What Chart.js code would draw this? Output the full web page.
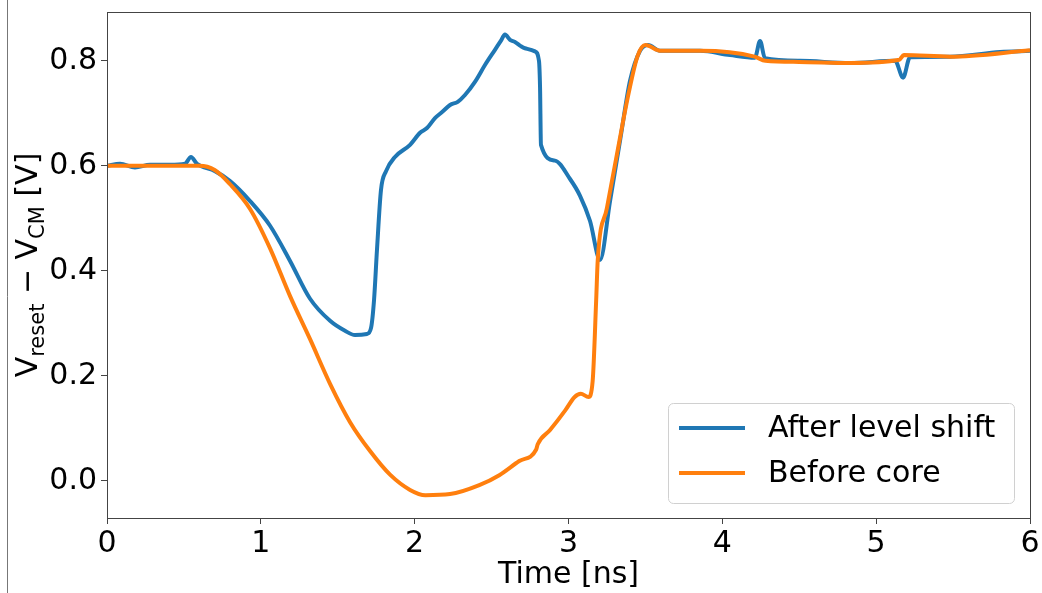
<!DOCTYPE html>
<html>
<head>
<meta charset="utf-8">
<script src="https://cdn.jsdelivr.net/npm/chart.js@4.4.0/dist/chart.umd.min.js"></script>
<style>
  body { margin: 0; background: #fff; }
</style>
</head>
<body>
<canvas id="chart" width="1042" height="593"></canvas>
<script>
// After level shift (blue)
const timeShift = [0, 0.085, 0.182, 0.28, 0.41, 0.507, 0.546, 0.585, 0.702, 0.8, 0.93, 1.06, 1.19, 1.32, 1.45, 1.547, 1.612, 1.69, 1.716, 1.736, 1.755, 1.781, 1.814, 1.872, 1.97, 2.035, 2.08, 2.132, 2.18, 2.23, 2.28, 2.327, 2.392, 2.457, 2.522, 2.56, 2.587, 2.62, 2.652, 2.69, 2.717, 2.782, 2.808, 2.815, 2.821, 2.912, 3.01, 3.075, 3.14, 3.205, 3.27, 3.335, 3.4, 3.465, 3.517, 3.595, 3.855, 4.05, 4.212, 4.245, 4.277, 4.505, 4.83, 5.123, 5.175, 5.22, 5.48, 5.805, 6.0];
const voltShift = [0.6, 0.604, 0.597, 0.602, 0.602, 0.604, 0.617, 0.604, 0.59, 0.571, 0.533, 0.486, 0.419, 0.347, 0.305, 0.286, 0.278, 0.28, 0.291, 0.345, 0.44, 0.554, 0.59, 0.617, 0.64, 0.663, 0.672, 0.691, 0.703, 0.716, 0.722, 0.735, 0.76, 0.792, 0.821, 0.838, 0.85, 0.84, 0.836, 0.828, 0.824, 0.818, 0.8, 0.75, 0.64, 0.61, 0.575, 0.543, 0.495, 0.421, 0.533, 0.648, 0.762, 0.819, 0.83, 0.819, 0.819, 0.811, 0.806, 0.838, 0.805, 0.8, 0.796, 0.8, 0.768, 0.807, 0.808, 0.817, 0.819];

// Before core (orange)
const timeCore = [0, 0.3, 0.6, 0.7, 0.8, 0.93, 1.06, 1.19, 1.32, 1.45, 1.58, 1.71, 1.84, 1.97, 2.07, 2.23, 2.42, 2.55, 2.68, 2.79, 2.8, 2.88, 2.98, 3.04, 3.08, 3.13, 3.157, 3.18, 3.19, 3.25, 3.32, 3.39, 3.45, 3.5, 3.6, 3.86, 4.21, 4.28, 4.5, 4.83, 5.15, 5.18, 5.48, 6.0];
const voltCore = [0.6, 0.6, 0.6, 0.592, 0.565, 0.518, 0.443, 0.352, 0.27, 0.185, 0.112, 0.057, 0.012, -0.017, -0.027, -0.025, -0.008, 0.011, 0.038, 0.06, 0.07, 0.097, 0.135, 0.16, 0.166, 0.16, 0.19, 0.345, 0.42, 0.52, 0.63, 0.737, 0.81, 0.83, 0.819, 0.819, 0.808, 0.8, 0.798, 0.796, 0.802, 0.811, 0.808, 0.82];

const seriesNames = ['After level shift', 'Before core'];
const xTicks = [0, 1, 2, 3, 4, 5, 6];
const yTicks = [0.0, 0.2, 0.4, 0.6, 0.8];

const FONT = 'DejaVu Sans';
const blue = '#1f77b4', orange = '#ff7f0e';

function toPoints(xs, ys){
  return xs.map((t, i) => ({x: t, y: ys[i]}));
}

// matplotlib-like box around the axes + the stray rule on the left edge
const framePlugin = {
  id: 'frame',
  afterDraw(chart){
    const {ctx, chartArea: {left, top, right, bottom}} = chart;
    ctx.save();
    ctx.strokeStyle = '#444';
    ctx.lineWidth = 1;
    ctx.strokeRect(left + 0.5, top + 0.5, right - left, bottom - top);
    ctx.strokeStyle = '#777';
    ctx.beginPath();
    ctx.moveTo(7.5, 0);
    ctx.lineTo(7.5, 593);
    ctx.stroke();
    ctx.restore();
  }
};

// y title with subscripts: V_reset − V_CM [V]
const yTitlePlugin = {
  id: 'yTitle',
  afterDraw(chart){
    const {ctx, chartArea: {top, bottom}} = chart;
    const parts = [
      ['V', 30, 0], ['reset', 21, 7], [' \u2212 ', 30, 0],
      ['V', 30, 0], ['CM', 21, 7], [' [V]', 30, 0]
    ];
    ctx.save();
    let total = 0;
    parts.forEach(p => { ctx.font = p[1] + 'px ' + FONT; total += ctx.measureText(p[0]).width; });
    ctx.translate(37, (top + bottom) / 2);
    ctx.rotate(-Math.PI / 2);
    ctx.fillStyle = '#000';
    ctx.textBaseline = 'alphabetic';
    ctx.textAlign = 'left';
    let x = -total / 2;
    parts.forEach(p => {
      ctx.font = p[1] + 'px ' + FONT;
      ctx.fillText(p[0], x, p[2]);
      x += ctx.measureText(p[0]).width;
    });
    ctx.restore();
  }
};

const legendPlugin = {
  id: 'boxLegend',
  afterDraw(chart){
    const {ctx} = chart;
    const x0 = 668, y0 = 403, w = 346, h = 100;
    ctx.save();
    ctx.beginPath();
    ctx.roundRect(x0 + 0.5, y0 + 0.5, w, h, 5);
    ctx.fillStyle = 'rgba(255,255,255,0.8)';
    ctx.fill();
    ctx.strokeStyle = '#d0d0d0';
    ctx.lineWidth = 1;
    ctx.stroke();
    const colors = [blue, orange];
    ctx.font = '30px ' + FONT;
    ctx.textBaseline = 'middle';
    ctx.textAlign = 'left';
    seriesNames.forEach((name, i) => {
      const y = 428 + i * 45;
      ctx.strokeStyle = colors[i];
      ctx.lineWidth = 4;
      ctx.beginPath();
      ctx.moveTo(679, y);
      ctx.lineTo(745, y);
      ctx.stroke();
      ctx.fillStyle = '#000';
      ctx.fillText(name, 768, y + 1);
    });
    ctx.restore();
  }
};

const ctx = document.getElementById('chart').getContext('2d');
new Chart(ctx, {
  type: 'line',
  data: {
    datasets: [
      {
        label: seriesNames[0],
        data: toPoints(timeShift, voltShift),
        borderColor: blue,
        borderWidth: 4,
        order: 1
      },
      {
        label: seriesNames[1],
        data: toPoints(timeCore, voltCore),
        borderColor: orange,
        borderWidth: 4,
        order: 0
      }
    ]
  },
  options: {
    responsive: false,
    animation: false,
    layout: { padding: { top: 12, right: 12, left: 0, bottom: 0 } },
    elements: {
      point: { radius: 0 },
      line: { cubicInterpolationMode: 'monotone', fill: false }
    },
    plugins: {
      legend: { display: false },
      tooltip: { enabled: false }
    },
    scales: {
      x: {
        type: 'linear',
        min: 0,
        max: 6,
        afterBuildTicks: s => { s.ticks = xTicks.map(v => ({value: v})); },
        afterFit: s => { s.height = 75; s.paddingLeft = 0; s.paddingRight = 0; },
        ticks: {
          font: { family: FONT, size: 30 },
          color: '#000',
          padding: 2,
          maxRotation: 0,
          callback: v => String(v)
        },
        grid: { drawOnChartArea: false, tickLength: 6, color: '#444' },
        border: { color: '#444' },
        title: {
          display: true,
          text: 'Time [ns]',
          font: { family: FONT, size: 30 },
          color: '#000',
          padding: { top: 0, bottom: 0 }
        }
      },
      y: {
        min: -0.0705,
        max: 0.893,
        afterBuildTicks: s => { s.ticks = yTicks.map(v => ({value: v})); },
        afterFit: s => { s.width = 107; s.paddingTop = 0; s.paddingBottom = 0; },
        ticks: {
          font: { family: FONT, size: 30 },
          color: '#000',
          padding: 4,
          callback: v => v.toFixed(1)
        },
        grid: { drawOnChartArea: false, tickLength: 6, color: '#444' },
        border: { color: '#444' }
      }
    }
  },
  plugins: [framePlugin, yTitlePlugin, legendPlugin]
});
</script>
</body>
</html>
